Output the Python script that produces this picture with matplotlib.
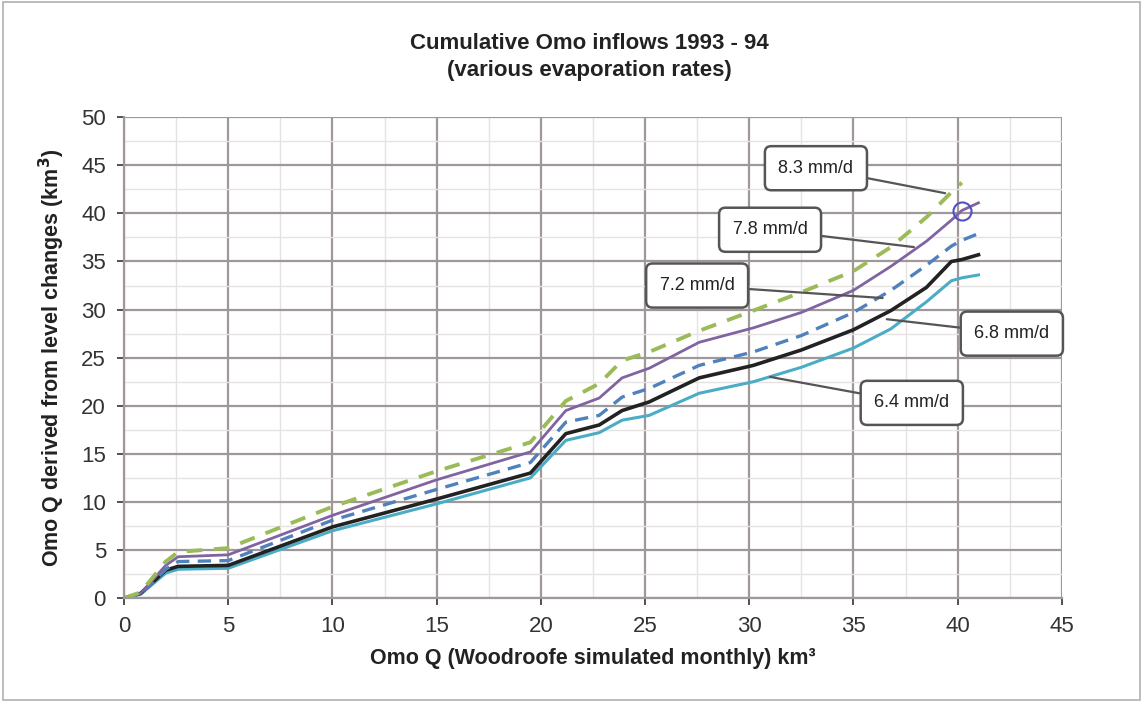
import numpy as np
import matplotlib.pyplot as plt
from matplotlib.patches import Rectangle

plt.rcParams['font.family'] = ['Liberation Sans', 'DejaVu Sans']

# x positions shared by all series (km3, Woodroofe simulated)
omo_sim = [0, 0.8, 2.0, 2.6, 5.0, 10.0, 15.0, 19.5, 21.2, 22.8, 23.9, 25.2,
           27.6, 30.2, 32.5, 35.0, 36.8, 38.5, 39.7, 40.2, 41.0]

evap_83 = [0, 0.6, 3.8, 4.8, 5.2, 9.5, 13.2, 16.2, 20.5, 22.3, 24.7, 25.6,
           27.8, 29.9, 31.8, 34.0, 36.5, 39.6, 42.2, 43.2, np.nan]
evap_78 = [0, 0.5, 3.4, 4.3, 4.5, 8.6, 12.3, 15.2, 19.5, 20.8, 22.9, 23.9,
           26.6, 28.1, 29.7, 32.0, 34.5, 37.1, 39.3, 40.3, 41.1]
evap_72 = [0, 0.4, 3.0, 3.8, 3.9, 8.1, 11.3, 14.1, 18.3, 19.0, 20.9, 21.8,
           24.2, 25.6, 27.3, 29.7, 32.0, 34.6, 36.6, 37.2, 37.9]
evap_68 = [0, 0.5, 2.9, 3.3, 3.4, 7.4, 10.3, 13.0, 17.1, 18.0, 19.5, 20.4,
           22.9, 24.2, 25.8, 27.9, 29.9, 32.3, 35.0, 35.2, 35.7]
evap_64 = [0, 0.4, 2.6, 3.0, 3.1, 7.0, 9.8, 12.5, 16.4, 17.2, 18.5, 19.0,
           21.3, 22.5, 24.0, 26.0, 28.0, 30.8, 33.0, 33.3, 33.6]

labels = ['8.3 mm/d', '7.8 mm/d', '7.2 mm/d', '6.8 mm/d', '6.4 mm/d']
# (text position, point on curve)
label_text_xy = [(33.2, 44.7), (31.0, 38.3), (27.5, 32.5), (42.6, 27.5), (37.8, 20.3)]
label_tip_xy = [(39.4, 42.1), (37.9, 36.5), (36.4, 31.2), (36.6, 29.0), (31.0, 23.0)]
marker_xy = (40.2, 40.3)

fig = plt.figure(figsize=(11.43, 7.02), dpi=100)
fig.patches.append(Rectangle((0.003, 0.003), 0.994, 0.994, transform=fig.transFigure,
                             fill=False, edgecolor='#b0b0b0', linewidth=1.2))
ax = fig.add_axes([0.1085, 0.148, 0.8205, 0.685])

ax.plot(omo_sim, evap_64, color='#4BACC6', linewidth=2.2)
ax.plot(omo_sim, evap_68, color='#222222', linewidth=2.6)
ax.plot(omo_sim, evap_72, color='#4F81BD', linewidth=2.4, linestyle=(0, (4, 2.5)))
ax.plot(omo_sim, evap_78, color='#8064A2', linewidth=2.0)
ax.plot(omo_sim, evap_83, color='#9BBB59', linewidth=2.8, linestyle=(0, (4, 3)))
ax.plot(*marker_xy, marker='o', markersize=13, markerfacecolor='none',
        markeredgecolor='#5050c8', markeredgewidth=1.5)

for lab, txy, pxy in zip(labels, label_text_xy, label_tip_xy):
    ax.annotate(lab, xy=pxy, xytext=txy, ha='center', va='center', fontsize=13,
                color='#222222',
                bbox=dict(boxstyle='round,pad=0.75,rounding_size=0.35', fc='white',
                          ec='#555555', lw=1.8),
                arrowprops=dict(arrowstyle='-', color='#555555', lw=1.6,
                                shrinkA=0, shrinkB=0))

ax.set_xlim(0, 45)
ax.set_ylim(0, 50)
ax.set_xticks(np.arange(0, 46, 5))
ax.set_yticks(np.arange(0, 51, 5))
ax.set_xticks(np.arange(0, 45, 2.5), minor=True)
ax.set_yticks(np.arange(0, 50, 2.5), minor=True)
ax.grid(True, which='major', color='#a09898', linewidth=1.6)
ax.grid(True, which='minor', color='#e6e2e2', linewidth=1.0)
ax.set_axisbelow(True)
ax.tick_params(which='major', labelsize=16, colors='#333333', length=5,
               width=1.2, pad=8)
ax.tick_params(which='minor', length=0)
for s in ['top', 'right']:
    ax.spines[s].set_visible(False)
for s in ['left', 'bottom']:
    ax.spines[s].set_color('#a09898')
    ax.spines[s].set_linewidth(1.6)

fig.text(0.516, 0.919, 'Cumulative Omo inflows 1993 - 94\n(various evaporation rates)',
         ha='center', va='center', fontsize=16, fontweight='bold', color='#222222',
         linespacing=1.35)
ax.set_xlabel('Omo Q (Woodroofe simulated monthly) km\u00b3', fontsize=15.5,
              fontweight='bold', color='#222222', labelpad=8)
ax.set_ylabel('Omo Q derived from level changes (km$^\\mathbf{3}$)', fontsize=15.5,
              fontweight='bold', color='#222222', labelpad=10)

plt.savefig('out.png', dpi=100)
plt.close()
